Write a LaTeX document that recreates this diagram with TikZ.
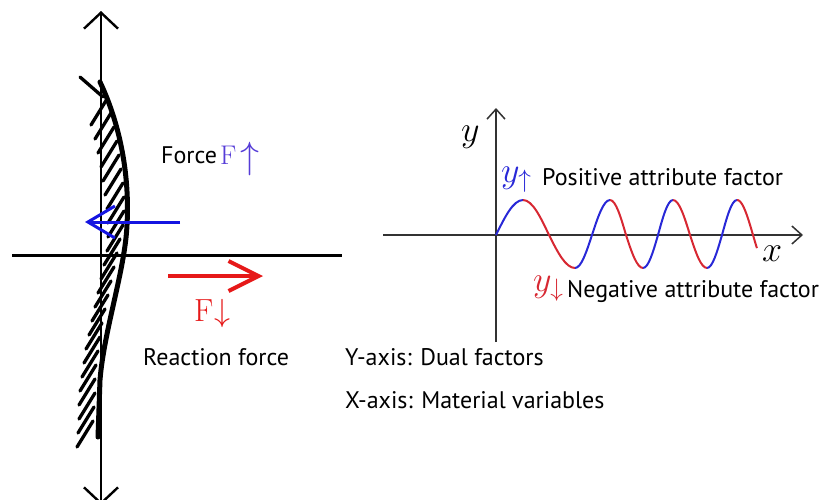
\documentclass[tikz,border=0pt]{standalone}
\usepackage{fix-cm}
\usepackage{fontspec}
\setsansfont{PT Sans}
\usetikzlibrary{arrows.meta}
\definecolor{fblue}{RGB}{20,20,225}
\definecolor{fred}{RGB}{230,25,25}
\definecolor{fviolet}{RGB}{85,60,215}
\definecolor{wblue}{RGB}{40,40,215}
\definecolor{wred}{RGB}{215,40,50}
\definecolor{axgray}{RGB}{50,50,50}
\begin{document}
\begin{tikzpicture}[x=1pt,y=-1pt,
  lbl/.style={anchor=base west, inner sep=0pt, font=\sffamily\fontsize{24}{28}\selectfont},
  mathlbl/.style={anchor=base west, inner sep=0pt, font=\fontsize{36}{40}\selectfont},
  hatchline/.style={line width=3.3pt, line cap=round},
  wave/.style={line width=2pt}
]
\useasboundingbox (0,0) rectangle (829,499);
\clip (0,0) rectangle (829,499);

% ---------- left figure ----------
\coordinate (vtop) at (101,11);
\coordinate (vbot) at (101,505);
\draw[line width=2.4pt, {Straight Barb[length=16pt,width=34pt]}-{Straight Barb[length=16pt,width=34pt]}] (vtop) -- (vbot);
\coordinate (hl) at (12,255);
\coordinate (hr) at (342,255);
\draw[line width=3pt] (hl) -- (hr);

% hatching
\draw[hatchline] (80,77) -- (103,97);
\foreach \cx/\cy in {99/112,103/126,106/140,109/154,111/168,113/182,115/196,116/210,116/224,115/238,112/252,109/266,106/280,103/294,100/308,97/322,94/336,92/350,90/364,88/378,87/392,87/406,86/420,85/434}
  \draw[hatchline] (\cx-8,\cy+13) -- (\cx+8,\cy-13);

% deflected member
\draw[line width=5pt, line cap=round] (100,82) .. controls (118,120) and (130,170) .. (127,225)
  .. controls (125,270) and (104,330) .. (100,380) -- (98,437);

% force arrows
\coordinate (ba) at (180,222);
\coordinate (bb) at (85,222);
\draw[fblue, line width=3pt, -{Straight Barb[length=27pt,width=32pt]}] (ba) -- (bb);
\coordinate (ra) at (168,276);
\coordinate (rb) at (263,276);
\draw[fred, line width=4pt, -{Straight Barb[length=30pt,width=30pt]}] (ra) -- (rb);

\node[lbl] (force) at (161,163) {Force};
\node[anchor=base west, inner sep=0pt, text=fviolet, font=\fontsize{27}{30}\selectfont] (fup) at (220,164)
  {F\kern4pt{\fontsize{38}{40}\selectfont\raisebox{-4pt}{$\uparrow$}}};
\node[anchor=base west, inner sep=0pt, text=fred, font=\fontsize{32}{36}\selectfont] (fdown) at (194,321) {F\kern1pt$\downarrow$};
\node[lbl] (react) at (143,365) {Reaction force};

% ---------- right figure ----------
\coordinate (yb) at (496,342);
\coordinate (yt) at (496,108);
\coordinate (xl) at (383,235);
\coordinate (xr) at (803,235);
\draw[axgray, line width=1.5pt, -{Straight Barb[length=10pt,width=18pt]}] (yb) -- (yt);
\draw[axgray, line width=1.5pt, -{Straight Barb[length=10pt,width=18pt]}] (xl) -- (xr);
\node[mathlbl] (ylab) at (461,141) {$y$};
\node[mathlbl] (xlab) at (762,261) {$x$};

% wave
\draw[wave, wblue] (496,235) sin (523,200);
\draw[wave, wred]  (523,200) cos (549,235) sin (575,268);
\draw[wave, wblue] (575,268) cos (592,235) sin (610,200);
\draw[wave, wred]  (610,200) cos (626,235) sin (643,268);
\draw[wave, wblue] (643,268) cos (658,235) sin (673,200);
\draw[wave, wred]  (673,200) cos (690,235) sin (707,268);
\draw[wave, wblue] (707,268) cos (722,235) sin (737,200);
\draw[wave, wred, domain=0:112, samples=30, smooth] plot ({737+\x/90*16}, {235-35*cos(\x)});

\node[mathlbl, text=wblue] (yup) at (501,182) {$y_{\uparrow}$};
\node[lbl] (pos) at (542,185) {Positive attribute factor};
\node[mathlbl, text=wred] (ydown) at (533,291) {$y_{\downarrow}$};
\node[lbl] (neg) at (567,297) {Negative attribute factor};

\node[lbl] (yax) at (345,365) {Y-axis: Dual factors};
\node[lbl] (xax) at (345,408) {X-axis: Material variables};
\end{tikzpicture}
\end{document}
